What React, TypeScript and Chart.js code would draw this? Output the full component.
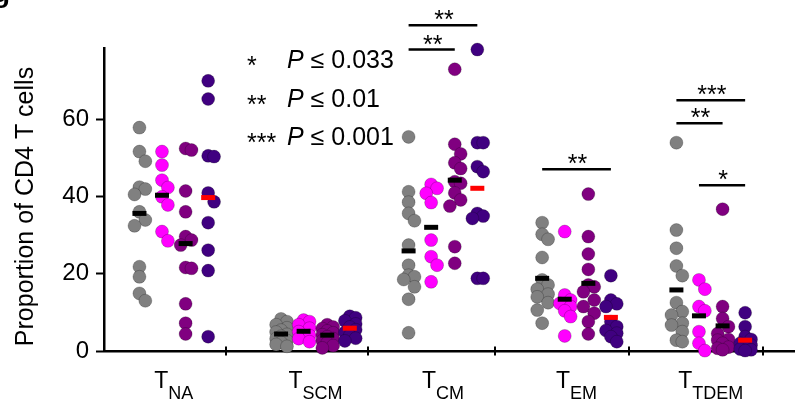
import React, { useEffect, useRef } from 'react';
import { Chart, registerables } from 'chart.js';

Chart.register(...registerables);

// ---------- data ----------
const categories = ['NA', 'SCM', 'CM', 'EM', 'TDEM']; // subscripts of "T"

const grayValues = [
  [57.8, 51.6, 49.1, 42.4, 41.9, 40.5, 36.0, 33.9, 32.4, 21.8, 19.2, 14.9, 13.0],
  [8.3, 7.6, 6.8, 6.0, 5.4, 4.9, 4.3, 3.8, 3.2, 2.7, 2.2, 1.7, 1.2],
  [55.4, 41.2, 38.5, 35.6, 33.7, 27.4, 22.2, 19.6, 19.2, 18.5, 16.6, 13.4, 4.7],
  [33.2, 30.2, 28.9, 24.2, 18.4, 17.1, 16.0, 14.7, 14.0, 12.5, 10.6, 7.2],
  [53.9, 31.3, 26.6, 22.0, 19.5, 12.5, 10.2, 9.3, 7.2, 6.7, 5.0, 2.8, 2.4],
];
const magentaValues = [
  [51.6, 48.1, 44.2, 42.3, 39.9, 37.8, 30.9, 28.5],
  [8.0, 7.6, 6.8, 5.9, 5.0, 4.0, 3.2, 2.4],
  [43.1, 42.1, 40.8, 38.4, 28.7, 24.4, 22.2, 17.9],
  [30.9, 14.5, 13.2, 12.3, 11.5, 10.4, 8.9, 3.9],
  [18.4, 16.0, 11.5, 10.4, 5.0, 2.0, 0.1],
];
const purpleValues = [
  [52.4, 52.0, 41.4, 36.0, 29.6, 28.7, 27.4, 21.6, 21.4, 12.2, 7.2, 4.4],
  [6.8, 6.2, 5.8, 5.2, 4.7, 4.2, 3.7, 3.2, 2.7, 2.1, 1.4, 0.8],
  [72.9, 53.5, 51.0, 48.7, 47.2, 43.8, 43.4, 40.9, 39.1, 37.5, 27.0, 22.7],
  [40.6, 29.6, 25.1, 21.1, 17.1, 16.6, 15.3, 13.2, 11.5, 9.8, 7.6, 4.4],
  [36.7, 11.5, 8.4, 6.3, 4.5, 3.0, 2.8, 2.0, 1.0, 0.7, 0.3],
];
const indigoValues = [
  [69.9, 65.2, 50.5, 50.3, 40.9, 38.6, 33.2, 26.1, 20.8, 3.7],
  [9.0, 8.6, 7.8, 7.0, 6.2, 5.5, 4.8, 4.0, 3.3, 2.6],
  [78.0, 53.9, 53.9, 47.7, 46.4, 35.6, 34.9, 34.3, 18.8, 18.8],
  [19.5, 13.2, 12.2, 11.5, 7.6, 6.3, 5.3, 4.6, 3.7, 2.4],
  [9.9, 6.3, 3.7, 3.0, 2.0, 1.5, 1.1, 0.5, 0.3, 0.1],
];

const grayMeans = [35.6, 4.4, 25.9, 18.8, 15.8];
const magentaMeans = [40.3, 5.1, 32.0, 13.4, 9.1];
const purpleMeans = [27.8, 4.1, 44.2, 17.5, 6.5];
const indigoMeans = [39.7, 5.9, 42.1, 8.7, 2.8];

const yTicks = [0, 20, 40, 60];

// significance comparisons
const sigCategory = [2, 2, 3, 4, 4, 4];
const sigFrom = [0, 0, 0, 0, 0, 1];
const sigTo = [3, 2, 3, 3, 2, 3];
const sigStars = ['**', '**', '**', '***', '**', '*'];
const sigHeight = [84.3, 78.0, 47.0, 64.9, 58.9, 42.9];

const legendStars = ['*', '**', '***'];
const legendThresholds = ['0.033', '0.01', '0.001'];

// ---------- layout / style ----------
const FONT = '"Liberation Sans", Arial, Helvetica, sans-serif';
const CAT_X = [0, 1.055, 2.005, 3.0, 4.0];
const GROUP_OFFSET = [-0.256, -0.088, 0.088, 0.256];
const TICK_OFFSET = 0.39;
const X_MIN = -0.52;
const X_MAX = 4.62;
const Y_MAX = 78.4;
const GROUP_COLORS = ['#808080', '#ff00ff', '#800080', '#400080'];
const MEAN_COLORS = ['#000000', '#000000', '#000000', '#ff0000'];

const groupValues = [grayValues, magentaValues, purpleValues, indigoValues];
const groupMeans = [grayMeans, magentaMeans, purpleMeans, indigoMeans];

// simple deterministic swarm layout (horizontal offsets, in x-scale units)
function swarm(values: number[]): number[] {
  const PX_X = 702 / (X_MAX - X_MIN);
  const PX_Y = 303 / Y_MAX;
  const order = values.map((_, i) => i).sort((a, b) => values[b] - values[a]);
  const placed: { x: number; y: number }[] = [];
  const out = new Array(values.length).fill(0);
  const cands = [0, 6, -5];
  for (const i of order) {
    const y = values[i] * PX_Y;
    let best = 0;
    let bestD = -1;
    for (const c of cands) {
      let d = Infinity;
      for (const p of placed) d = Math.min(d, Math.hypot(p.x - c, p.y - y));
      if (d >= 10) { best = c; break; }
      if (d > bestD) { bestD = d; best = c; }
    }
    placed.push({ x: best, y });
    out[i] = best / PX_X;
  }
  return out;
}

function centerTextAt(ctx: CanvasRenderingContext2D, text: string, x: number, cy: number) {
  const m = ctx.measureText(text);
  const asc = m.actualBoundingBoxAscent;
  const desc = m.actualBoundingBoxDescent;
  ctx.fillText(text, x, cy + (asc - desc) / 2);
}

const overlay = {
  id: 'overlay',
  afterDraw(chart: any) {
    const ctx: CanvasRenderingContext2D = chart.ctx;
    const xs = chart.scales.x;
    const ys = chart.scales.y;
    const area = chart.chartArea;
    ctx.save();
    ctx.strokeStyle = '#000';
    ctx.fillStyle = '#000';

    // x-axis tick marks crossing the axis
    ctx.lineWidth = 2;
    CAT_X.forEach((cx) => {
      const px = Math.round(xs.getPixelForValue(cx + TICK_OFFSET));
      ctx.beginPath();
      ctx.moveTo(px, area.bottom - 4.5);
      ctx.lineTo(px, area.bottom + 4.5);
      ctx.stroke();
    });

    // category labels T_sub
    ctx.textAlign = 'left';
    ctx.textBaseline = 'alphabetic';
    categories.forEach((sub, c) => {
      const cx = xs.getPixelForValue(CAT_X[c]);
      ctx.font = `23px ${FONT}`;
      const wT = ctx.measureText('T').width;
      ctx.font = `18px ${FONT}`;
      const wS = ctx.measureText(sub).width;
      const x0 = cx - (wT + wS) / 2;
      ctx.font = `23px ${FONT}`;
      ctx.fillText('T', x0, area.bottom + 37);
      ctx.font = `18px ${FONT}`;
      ctx.fillText(sub, x0 + wT, area.bottom + 48);
    });

    // y-axis title
    ctx.save();
    ctx.translate(33, 206.5);
    ctx.rotate(-Math.PI / 2);
    ctx.textAlign = 'center';
    ctx.textBaseline = 'alphabetic';
    ctx.font = `25px ${FONT}`;
    ctx.fillText('Proportion of CD4 T cells', 0, 0);
    ctx.restore();

    // significance legend
    const baselines = [68, 107, 145];
    legendStars.forEach((s, i) => {
      ctx.textAlign = 'left';
      ctx.font = `25px ${FONT}`;
      centerTextAt(ctx, s, 247, baselines[i] - 7);
      ctx.textBaseline = 'alphabetic';
      ctx.font = `italic 25px ${FONT}`;
      ctx.fillText('P', 287, baselines[i]);
      const wP = ctx.measureText('P').width;
      ctx.font = `25px ${FONT}`;
      ctx.fillText(' \u2264 ' + legendThresholds[i], 287 + wP, baselines[i]);
    });

    // significance brackets
    ctx.lineWidth = 2.5;
    ctx.textAlign = 'center';
    sigCategory.forEach((c, i) => {
      const x1 = xs.getPixelForValue(CAT_X[c] + GROUP_OFFSET[sigFrom[i]]);
      const x2 = xs.getPixelForValue(CAT_X[c] + GROUP_OFFSET[sigTo[i]]);
      const y = ys.getPixelForValue(sigHeight[i]);
      ctx.beginPath();
      ctx.moveTo(x1, y);
      ctx.lineTo(x2, y);
      ctx.stroke();
      ctx.font = `25px ${FONT}`;
      centerTextAt(ctx, sigStars[i], (x1 + x2) / 2 + 1, y - 10);
    });

    // cut-off panel letter in the corner
    ctx.textAlign = 'left';
    ctx.textBaseline = 'alphabetic';
    ctx.font = `bold 28px ${FONT}`;
    ctx.fillText('g', -7, 2);

    ctx.restore();
  },
};

export default function App() {
  const ref = useRef<HTMLCanvasElement>(null);

  useEffect(() => {
    document.body.style.margin = '0';
    const canvas = ref.current;
    if (!canvas) return;

    const dotSets = groupValues.map((vals, g) => ({
      type: 'scatter' as const,
      label: `group${g}`,
      order: 4 - g + 1,
      data: categories.flatMap((_, c) => {
        const offs = swarm(vals[c]);
        return vals[c].map((v, i) => ({ x: CAT_X[c] + GROUP_OFFSET[g] + offs[i], y: v }));
      }),
      backgroundColor: GROUP_COLORS[g],
      borderColor: 'rgba(0,0,0,0.28)',
      borderWidth: 0.8,
      pointRadius: 6.5,
      pointHoverRadius: 6.5,
      clip: false as const,
    }));

    const meanSets = groupMeans.map((means, g) => ({
      type: 'scatter' as const,
      label: `mean${g}`,
      order: 0,
      data: means.map((m, c) => ({ x: CAT_X[c] + GROUP_OFFSET[g], y: m })),
      pointStyle: 'line' as const,
      borderColor: MEAN_COLORS[g],
      backgroundColor: MEAN_COLORS[g],
      borderWidth: 5,
      pointRadius: 7,
      pointHoverRadius: 7,
      clip: false as const,
    }));

    const chart = new Chart(canvas, {
      type: 'scatter',
      data: { datasets: [...meanSets, ...dotSets] as any },
      options: {
        animation: false,
        responsive: false,
        maintainAspectRatio: false,
        events: [],
        layout: { padding: { top: 48, right: 0, bottom: 56, left: 0 } },
        plugins: { legend: { display: false }, tooltip: { enabled: false } },
        scales: {
          x: {
            type: 'linear',
            min: X_MIN,
            max: X_MAX,
            ticks: { display: false },
            grid: { display: false, drawTicks: false },
            border: { display: true, color: '#000', width: 2.5 },
          },
          y: {
            type: 'linear',
            min: 0,
            max: Y_MAX,
            afterBuildTicks: (s: any) => {
              s.ticks = yTicks.map((v) => ({ value: v }));
            },
            afterFit: (s: any) => {
              s.width = 104;
            },
            ticks: {
              color: '#000',
              padding: 7,
              font: { family: FONT, size: 24 },
            },
            grid: {
              drawOnChartArea: false,
              drawTicks: true,
              tickLength: 8,
              tickWidth: 2,
              color: '#000',
            },
            border: { display: true, color: '#000', width: 2.5 },
          },
        },
      } as any,
      plugins: [overlay],
    });

    return () => chart.destroy();
  }, []);

  return (
    <canvas
      ref={ref}
      width={806}
      height={407}
      style={{ display: 'block', width: '806px', height: '407px' }}
    />
  );
}
